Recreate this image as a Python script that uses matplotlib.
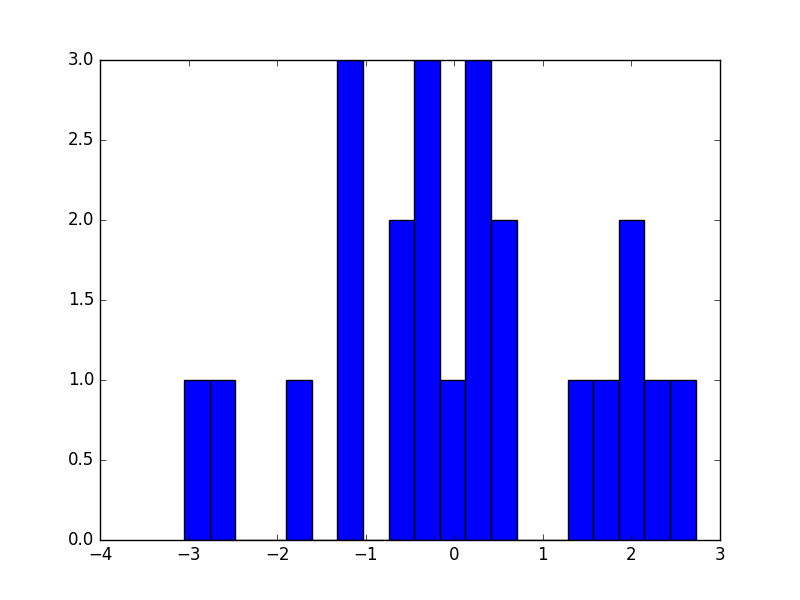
import numpy as np
import matplotlib
matplotlib.use("Agg")
import matplotlib.pyplot as plt

# Histogram: 20 equal bins between these limits
bin_lo = -3.052
bin_hi = 2.725
counts = [1, 1, 0, 0, 1, 0, 3, 0, 2, 3, 1, 3, 2, 0, 0, 1, 1, 2, 1, 1]

edges = np.linspace(bin_lo, bin_hi, len(counts) + 1)

plt.style.use("classic")
fig, ax = plt.subplots(figsize=(8, 6))

ax.bar(edges[:-1], counts, width=np.diff(edges), align="edge",
       color="blue", edgecolor="black")

ax.set_xlim(-4, 3)
ax.set_ylim(0, 3)

fig.savefig("out.png", dpi=100, facecolor="white")
